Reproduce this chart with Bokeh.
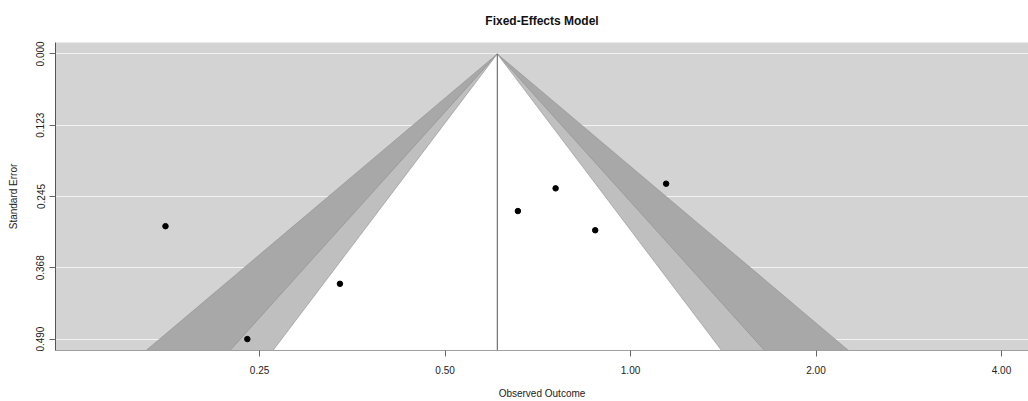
import numpy as np
from bokeh.plotting import figure
from bokeh.models import Range1d, FixedTicker, PrintfTickFormatter, Title
from bokeh.embed import file_html
from bokeh.resources import INLINE

# Study-level log outcomes and their standard errors
yi = [-1.738, -1.432, -1.086, -0.280, -0.421, -0.132, 0.133]
sei = [0.296, 0.490, 0.395, 0.231, 0.270, 0.303, 0.223]

# Contour levels (confidence %) and their fills, outermost first
levels = [99, 95, 90]
z_values = [2.5758, 1.9600, 1.6449]
shades = ["#A8A8A8", "#BFBFBF", "#FFFFFF"]

# Axis ticks
x_ticks = [0.25, 0.50, 1.00, 2.00, 4.00]
se_ticks = [0.0, 0.1225, 0.245, 0.3675, 0.49]
se_labels = ["0.000", "0.123", "0.245", "0.368", "0.490"]

FONT = "Liberation Sans"

yi_a = np.array(yi)
sei_a = np.array(sei)
w = 1.0 / sei_a ** 2
est = float(np.sum(w * yi_a) / np.sum(w))  # fixed-effects estimate

se_max = max(sei)
se_bottom = se_max * 1.04
se_top = -se_max * 0.04

p = figure(
    width=1028, height=401,
    x_axis_type="log",
    x_range=Range1d(0.1166, 4.425),
    y_range=Range1d(se_bottom, se_top),
    output_backend="svg", toolbar_location=None,
    min_border_left=55, min_border_right=0,
    min_border_top=42, min_border_bottom=51,
    background_fill_color="#D3D3D3",
    border_fill_color="white",
    outline_line_color=None,
)

p.title = Title(text="Fixed-Effects Model", align="center", vertical_align="top",
                text_font=FONT, text_font_size="12px", text_font_style="bold",
                text_color="#111111", standoff=25, offset=5)

# Contour-enhanced funnel regions
for z, col in zip(z_values, shades):
    xs = [np.exp(est - z * se_bottom), np.exp(est), np.exp(est + z * se_bottom)]
    ys = [se_bottom, 0.0, se_bottom]
    p.patch(xs, ys, fill_color=col, line_color="#8A8A8A", line_width=0.7, line_alpha=0.8)

# Reference line at the pooled estimate
p.segment(x0=[np.exp(est)], y0=[0.0], x1=[np.exp(est)], y1=[se_bottom],
          line_color="#555555", line_width=1)

# Observed outcomes
p.scatter(np.exp(yi_a), sei_a, size=5.5, fill_color="black", line_color="black")

# Axes
p.xaxis.ticker = FixedTicker(ticks=x_ticks)
p.xaxis.formatter = PrintfTickFormatter(format="%.2f")
p.yaxis.ticker = FixedTicker(ticks=se_ticks)
p.yaxis.major_label_overrides = {t: l for t, l in zip(se_ticks, se_labels)}
p.yaxis.major_label_orientation = "vertical"

p.xaxis.axis_label = "Observed Outcome"
p.yaxis.axis_label = "Standard Error"

for ax in (p.xaxis, p.yaxis):
    ax.axis_label_text_font = FONT
    ax.axis_label_text_font_size = "10px"
    ax.axis_label_text_font_style = "normal"
    ax.axis_label_text_color = "#222222"
    ax.major_label_text_font = FONT
    ax.major_label_text_font_size = "10px"
    ax.major_label_text_color = "#222222"
    ax.major_tick_out = 6
    ax.major_tick_in = 0
    ax.minor_tick_out = 0
    ax.minor_tick_in = 0
    ax.major_tick_line_color = "#666666"

p.yaxis.axis_line_color = "#555555"
p.xaxis.axis_line_color = "#A0A0A0"
p.yaxis.major_label_standoff = 5
p.yaxis.axis_label_standoff = 15
p.xaxis.major_label_standoff = 9
p.xaxis.axis_label_standoff = 11

p.xgrid.visible = False
p.ygrid.ticker = FixedTicker(ticks=se_ticks)
p.ygrid.grid_line_color = "#F2F2F2"
p.ygrid.grid_line_width = 1.2

open("out.html", "w").write(file_html(p, INLINE))
